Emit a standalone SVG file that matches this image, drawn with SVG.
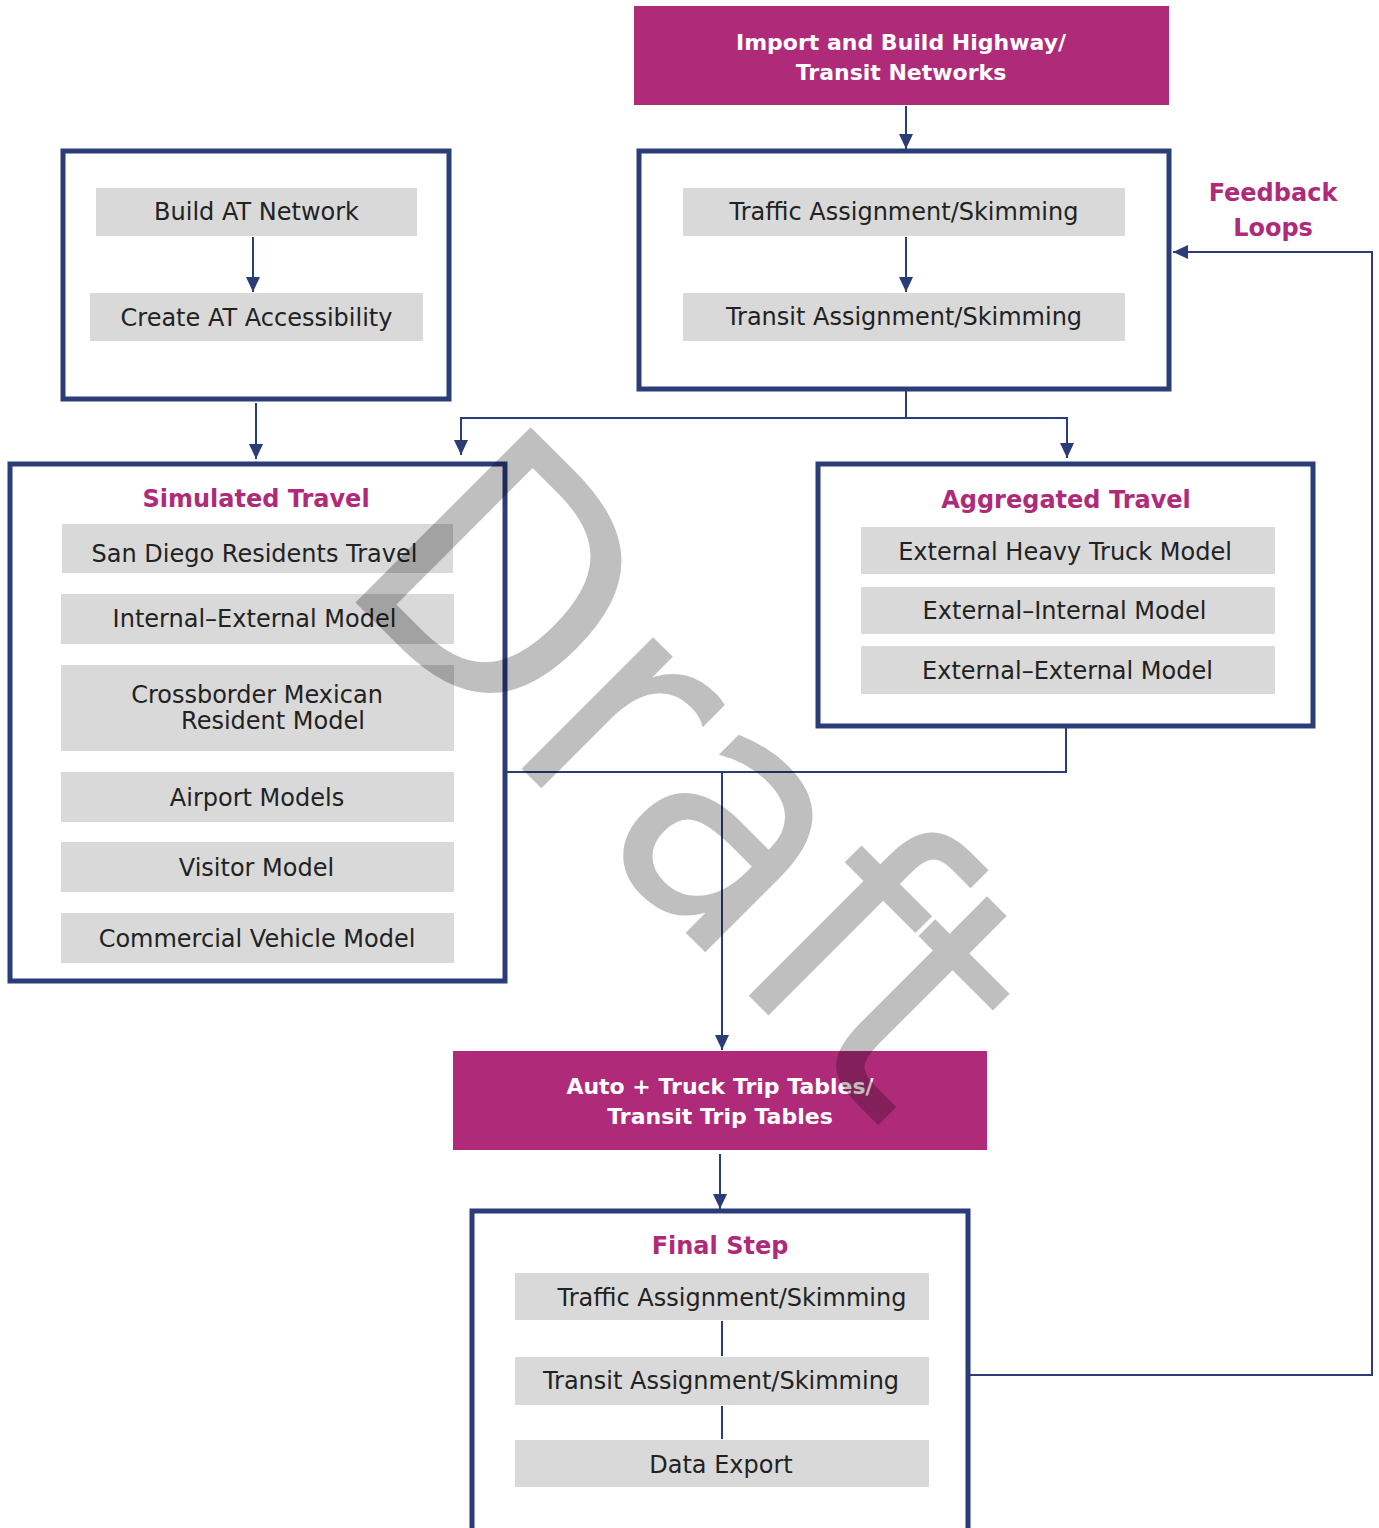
<svg xmlns="http://www.w3.org/2000/svg" width="1379" height="1528" viewBox="0 0 1379 1528">
<style>
.frame{fill:#fff;stroke:#2B3D78;stroke-width:5}
.mag{fill:#AF2B7A}
.gray{fill:#D9D9D9}
.lbl{font-family:"DejaVu Sans",sans-serif;font-size:24px;fill:#222;text-anchor:middle}
.ttl{font-family:"DejaVu Sans",sans-serif;font-weight:bold;font-size:24px;fill:#AF2B7A;text-anchor:middle}
.wt{font-family:"DejaVu Sans",sans-serif;font-weight:bold;font-size:22px;fill:#fff;text-anchor:middle}
.con{fill:none;stroke:#2B3D78;stroke-width:2}
</style>
<defs>
<marker id="ah" markerUnits="userSpaceOnUse" markerWidth="16" markerHeight="14" refX="15" refY="7" orient="auto">
<path d="M0,0 L15,7 L0,14 z" fill="#2B3D78"/>
</marker>
</defs>
<rect width="1379" height="1528" fill="#fff"/>

<g id="import-networks">
<rect class="mag" x="634" y="6" width="535" height="99"/>
<text class="wt" x="901" y="50">Import and Build Highway/</text>
<text class="wt" x="901" y="80">Transit Networks</text>
</g>

<g id="assignment-loop">
<rect class="frame" x="639" y="151" width="530" height="238"/>
<rect class="gray" x="683" y="188" width="442" height="48"/>
<text class="lbl" x="904" y="220">Traffic Assignment/Skimming</text>
<rect class="gray" x="683" y="293" width="442" height="48"/>
<text class="lbl" x="904" y="325">Transit Assignment/Skimming</text>
</g>

<g id="at-network">
<rect class="frame" x="63" y="151" width="386" height="248"/>
<rect class="gray" x="96" y="188" width="321" height="48"/>
<text class="lbl" x="256.5" y="220">Build AT Network</text>
<rect class="gray" x="90" y="293" width="333" height="48"/>
<text class="lbl" x="256.5" y="326">Create AT Accessibility</text>
</g>

<g id="simulated-travel">
<rect class="frame" x="10" y="464" width="495" height="517"/>
<text class="ttl" x="256" y="507">Simulated Travel</text>
<rect class="gray" x="62" y="524" width="391" height="49"/>
<text class="lbl" x="254.5" y="562">San Diego Residents Travel</text>
<rect class="gray" x="61" y="594" width="393" height="50"/>
<text class="lbl" x="254.5" y="627">Internal–External Model</text>
<rect class="gray" x="61" y="665" width="393" height="86"/>
<text class="lbl" x="257" y="703">Crossborder Mexican</text>
<text class="lbl" x="273" y="729">Resident Model</text>
<rect class="gray" x="61" y="772" width="393" height="50"/>
<text class="lbl" x="257" y="806">Airport Models</text>
<rect class="gray" x="61" y="842" width="393" height="50"/>
<text class="lbl" x="256.5" y="876">Visitor Model</text>
<rect class="gray" x="61" y="913" width="393" height="50"/>
<text class="lbl" x="257" y="947">Commercial Vehicle Model</text>
</g>

<g id="aggregated-travel">
<rect class="frame" x="818" y="464" width="495" height="262"/>
<text class="ttl" x="1066" y="508">Aggregated Travel</text>
<rect class="gray" x="861" y="527" width="414" height="47"/>
<text class="lbl" x="1065" y="560">External Heavy Truck Model</text>
<rect class="gray" x="861" y="587" width="414" height="47"/>
<text class="lbl" x="1064.5" y="619">External–Internal Model</text>
<rect class="gray" x="861" y="646" width="414" height="48"/>
<text class="lbl" x="1067.5" y="679">External–External Model</text>
</g>

<g id="trip-tables">
<rect class="mag" x="453" y="1051" width="534" height="99"/>
<text class="wt" x="720" y="1094">Auto + Truck Trip Tables/</text>
<text class="wt" x="720" y="1124">Transit Trip Tables</text>
</g>

<g id="final-step">
<rect class="frame" x="472" y="1211" width="496" height="330"/>
<text class="ttl" x="720" y="1254">Final Step</text>
<rect class="gray" x="515" y="1273" width="414" height="47"/>
<text class="lbl" x="732" y="1306">Traffic Assignment/Skimming</text>
<rect class="gray" x="515" y="1357" width="414" height="48"/>
<text class="lbl" x="721" y="1389">Transit Assignment/Skimming</text>
<rect class="gray" x="515" y="1440" width="414" height="47"/>
<text class="lbl" x="721" y="1473">Data Export</text>
</g>

<g id="feedback-label">
<text class="ttl" x="1273" y="201">Feedback</text>
<text class="ttl" x="1273" y="236">Loops</text>
</g>

<g id="connectors">
<line class="con" x1="906" y1="106" x2="906" y2="149" marker-end="url(#ah)"/>
<line class="con" x1="906" y1="237" x2="906" y2="292" marker-end="url(#ah)"/>
<line class="con" x1="253" y1="237" x2="253" y2="292" marker-end="url(#ah)"/>
<line class="con" x1="256" y1="403" x2="256" y2="459" marker-end="url(#ah)"/>
<polyline class="con" points="906,391 906,418 461,418 461,455" marker-end="url(#ah)"/>
<polyline class="con" points="906,418 1067,418 1067,458" marker-end="url(#ah)"/>
<polyline class="con" points="507,772 1066,772 1066,728"/>
<line class="con" x1="722" y1="772" x2="722" y2="1050" marker-end="url(#ah)"/>
<line class="con" x1="720" y1="1154" x2="720" y2="1209" marker-end="url(#ah)"/>
<line class="con" x1="722" y1="1321" x2="722" y2="1356"/>
<line class="con" x1="722" y1="1406" x2="722" y2="1439"/>
<polyline class="con" points="970,1375 1372,1375 1372,252 1173,252" marker-end="url(#ah)"/>
</g>

<text x="0" y="0" transform="translate(334,581) rotate(45)" font-family="DejaVu Sans, sans-serif" font-size="340" fill="#000" fill-opacity="0.25" textLength="777" lengthAdjust="spacingAndGlyphs">Draft</text>
</svg>
